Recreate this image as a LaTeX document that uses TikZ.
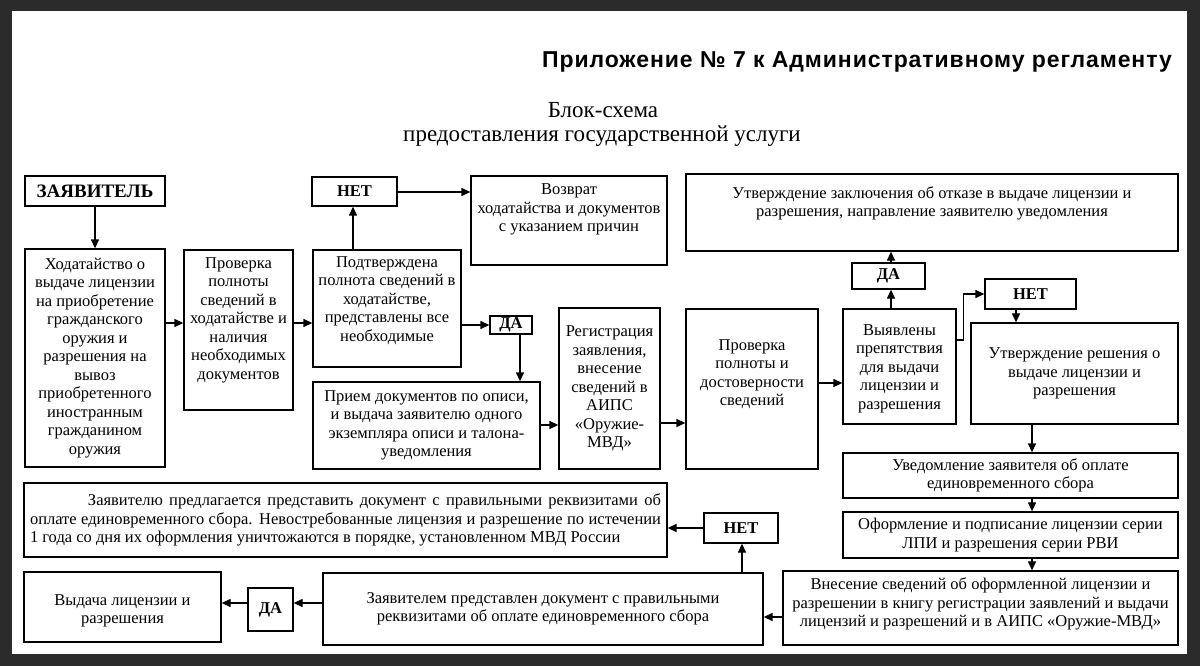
\documentclass[tikz,border=0pt]{standalone}
\usepackage{fontspec}
\setmainfont{Liberation Serif}
\newfontfamily\hdrfont[LetterSpace=4]{Liberation Sans}
\usetikzlibrary{arrows.meta}
\definecolor{darkframe}{HTML}{2B2B2B}
\tikzset{
  frame/.style={draw=black, line width=1.3pt, rectangle, inner sep=0pt},
  txt/.style={font=\fontsize{16.5}{18.5}\selectfont, align=center, inner sep=0pt},
  arr/.style={line width=1.3pt, -{Triangle[length=9pt,width=8pt]}},
}
\newcommand\flowbox[7]{%
  \node[frame, minimum width={(#4)-(#2)}, minimum height={(#5)-(#3)}] (#1) at ({((#2)+(#4))/2},{((#3)+(#5))/2}) {};
  \node[txt] (#1-t) at ([shift={(0,#6)}]#1.center) {#7};
}
\begin{document}
\begin{tikzpicture}[x=1pt,y=-1pt]
\fill[darkframe] (0,0) rectangle (1200,666);
\fill[white] (12,11) rectangle (1187,654);
\useasboundingbox (0,0) rectangle (1200,666);

\node[anchor=base east, inner sep=0pt, font=\hdrfont\bfseries\fontsize{23}{27}\selectfont] (hdr) at (1172,68) {Приложение № 7 к Административному регламенту};
\node[anchor=base, inner sep=0pt, font=\fontsize{23}{27}\selectfont] (ttl1) at (603,118) {Блок-схема};
\node[anchor=base, inner sep=0pt, font=\fontsize{23}{27}\selectfont] (ttl2) at (602,142) {предоставления государственной услуги};

\flowbox{zayav}{25}{176}{165}{206}{0}{\fontsize{19}{21}\selectfont\bfseries ЗАЯВИТЕЛЬ}
\flowbox{hod}{25}{249}{165}{467}{0}{Ходатайство о\\выдаче лицензии\\на приобретение\\гражданского\\оружия и\\разрешения на\\вывоз\\приобретенного\\иностранным\\гражданином\\оружия}
\flowbox{prov1}{184}{250}{293}{410}{-10}{Проверка\\полноты\\сведений в\\ходатайстве и\\наличия\\необходимых\\документов}
\flowbox{net1}{312}{177}{397}{206}{0}{\bfseries НЕТ}
\flowbox{podtv}{313}{250}{461}{367}{-8}{Подтверждена\\полнота сведений в\\ходатайстве,\\представлены все\\необходимые}
\flowbox{vozvr}{471}{176}{667}{265}{-11}{Возврат\\ходатайства и документов\\с указанием причин}
\flowbox{da1}{490}{316}{532}{334}{0}{\bfseries ДА}
\flowbox{priem}{313}{382}{540}{469}{0}{Прием документов по описи,\\и выдача заявителю одного\\экземпляра описи и талона-\\уведомления}
\flowbox{reg}{559}{308}{660}{469}{0}{Регистрация\\заявления,\\внесение\\сведений в\\АИПС\\«Оружие-\\МВД»}
\flowbox{prov2}{686}{309}{818}{469}{-15}{Проверка\\полноты и\\достоверности\\сведений}
\flowbox{vyyav}{843}{309}{956}{424}{2}{Выявлены\\препятствия\\для выдачи\\лицензии и\\разрешения}
\flowbox{da2}{852}{263}{925}{289}{0}{\bfseries ДА}
\flowbox{otkaz}{686}{174}{1178}{251}{-9}{Утверждение заключения об отказе в выдаче лицензии и\\разрешения, направление заявителю уведомления}
\flowbox{net2}{985}{279}{1076}{309}{0}{\bfseries НЕТ}
\flowbox{utvres}{971}{323}{1178}{424}{0}{Утверждение решения о\\выдаче лицензии и\\разрешения}
\flowbox{uved}{843}{453}{1178}{498}{0}{Уведомление заявителя об оплате\\единовременного сбора}
\flowbox{oform}{843}{512}{1178}{558}{0}{Оформление и подписание лицензии серии\\ЛПИ и разрешения серии РВИ}
\flowbox{vnes}{783}{571}{1178}{645}{-4}{Внесение сведений об оформленной лицензии и\\разрешении в книгу регистрации заявлений и выдачи\\лицензий и разрешений и в АИПС «Оружие-МВД»}
\flowbox{offer}{24}{483}{667}{557}{0}{\begin{minipage}{631pt}\setlength\parindent{0pt}%
\hbox to\linewidth{\hskip58pt Заявителю предлагается представить документ с правильными реквизитами об}%
\hbox to\linewidth{оплате единовременного сбора. Невостребованные лицензия и разрешение по истечении}%
\hbox{1 года со дня их оформления уничтожаются в порядке, установленном МВД России}\end{minipage}}
\flowbox{net3}{704}{513}{778}{543}{0}{\bfseries НЕТ}
\flowbox{zpred}{323}{573}{763}{645}{0}{Заявителем представлен документ с правильными\\реквизитами об оплате единовременного сбора}
\flowbox{da3}{248}{588}{293}{631}{0}{\bfseries ДА}
\flowbox{vyd}{24}{572}{221}{642}{4}{Выдача лицензии и\\разрешения}

\draw[arr] (zayav.south) -- (hod.north);
\draw[arr] (hod.east |- 0,323) -- (prov1.west |- 0,323);
\draw[arr] (prov1.east |- 0,323) -- (podtv.west |- 0,323);
\draw[arr] (podtv.north -| 353,0) -- (net1.south -| 353,0);
\draw[arr] (net1.east |- 0,192) -- (vozvr.west |- 0,192);
\draw[arr] (podtv.east |- da1.west) -- (da1.west);
\draw[arr] (da1.south -| 520,0) -- (priem.north -| 520,0);
\draw[arr] (priem.east |- 0,425) -- (reg.west |- 0,425);
\draw[arr] (reg.east |- 0,423) -- (prov2.west |- 0,423);
\draw[arr] (prov2.east |- 0,383) -- (vyyav.west |- 0,383);
\draw[arr] (vyyav.north -| 891,0) -- (da2.south -| 891,0);
\draw[arr] (da2.north -| 891,0) -- (otkaz.south -| 891,0);
\draw[arr] (vyyav.east |- 0,340) -- ++(7,0) |- (net2.west);
\draw[arr] (net2.south -| 1016,0) -- (utvres.north -| 1016,0);
\draw[arr] (utvres.south -| 1032,0) -- (uved.north -| 1032,0);
\draw[arr] (uved.south -| 1032,0) -- (oform.north -| 1032,0);
\draw[arr] (oform.south -| 1032,0) -- (vnes.north -| 1032,0);
\draw[arr] (vnes.west |- 0,617) -- (zpred.east |- 0,617);
\draw[arr] (zpred.north -| 742,0) -- (net3.south -| 742,0);
\draw[arr] (net3.west) -- (offer.east |- net3.west);
\draw[arr] (zpred.west |- 0,603) -- (da3.east |- 0,603);
\draw[arr] (da3.west |- 0,603) -- (vyd.east |- 0,603);
\end{tikzpicture}
\end{document}
